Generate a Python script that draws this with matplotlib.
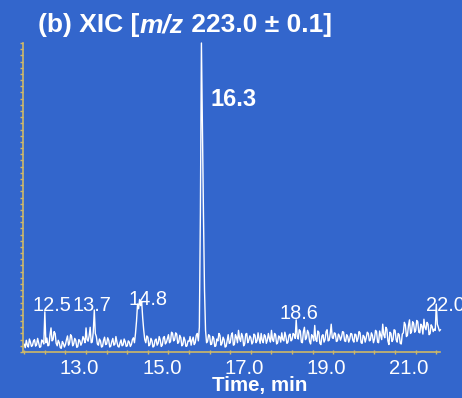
import numpy as np
import matplotlib
matplotlib.use("Agg")
import matplotlib.pyplot as plt
from matplotlib.ticker import MultipleLocator, NullFormatter, FormatStrFormatter
from matplotlib.transforms import ScaledTranslation

plt.rcParams["font.family"] = ["Liberation Sans", "DejaVu Sans"]

# ---- data: extracted ion chromatogram, m/z 223.0 +/- 0.1 ----
scan_start = 12.000   # min
scan_step = 0.025     # min between scans
intensity = [
    2.5, 1.4, 3.8, 2.2, 1.6, 4.2, 3.2, 1.8, 2.1, 3.6, 4.0, 1.9, 2.4, 4.4, 3.0, 1.5, 1.7, 3.9, 3.4, 2.6,
    13.0, 3.0, 4.5, 2.0, 2.2, 5.5, 7.8, 3.6, 4.0, 6.6, 6.0, 2.8, 2.0, 3.8, 3.0, 1.4, 1.2, 3.4, 2.8, 1.6,
    2.4, 4.0, 5.2, 2.2, 3.0, 5.6, 5.0, 2.0, 2.6, 4.4, 3.8, 1.5, 1.8, 4.0, 3.6, 2.2, 3.0, 5.0, 4.2, 3.0,
    7.8, 4.0, 3.5, 5.2, 8.0, 3.0, 3.2, 6.5, 13.6, 6.0, 5.0, 2.6, 2.2, 4.2, 3.6, 1.6, 1.8, 3.8, 4.8, 2.4,
    2.6, 4.6, 3.8, 1.6, 1.9, 3.4, 4.4, 2.2, 2.5, 5.0, 3.2, 1.8, 1.6, 3.0, 3.9, 2.0, 2.3, 4.2, 3.4, 1.8,
    2.0, 3.6, 3.2, 1.8, 2.4, 4.0, 4.6, 3.0, 6.0, 10.0, 15.5, 14.0, 17.0, 15.0, 16.3, 11.0, 7.0, 4.0, 3.0, 5.2,
    4.8, 2.0, 2.4, 4.4, 3.6, 1.6, 1.9, 3.8, 4.2, 2.2, 2.8, 5.0, 3.9, 1.8, 2.2, 4.6, 5.0, 2.6, 3.1, 4.4,
    5.6, 3.0, 3.4, 6.4, 6.0, 3.6, 4.0, 6.2, 5.8, 2.8, 3.2, 5.4, 4.6, 2.0, 2.4, 4.8, 3.8, 1.8, 2.0, 3.6,
    3.4, 5.0, 2.2, 3.8, 4.8, 2.4, 3.0, 5.4, 6.0, 3.6, 8.0, 45.0, 100.0, 72.0, 44.0, 20.0, 7.0, 3.0, 3.5, 5.6,
    5.2, 2.4, 2.6, 5.0, 4.4, 1.8, 2.0, 4.2, 3.6, 6.0, 5.4, 2.2, 2.8, 4.8, 4.0, 1.6, 1.8, 3.8, 5.6, 2.8,
    3.0, 5.4, 6.2, 2.2, 2.4, 5.6, 4.8, 3.0, 7.0, 4.4, 3.4, 6.0, 5.0, 2.0, 2.6, 5.8, 6.0, 3.0, 3.8, 5.2,
    4.6, 2.6, 3.2, 5.8, 5.4, 3.0, 3.6, 6.2, 4.2, 2.8, 6.0, 3.8, 3.0, 5.6, 5.2, 2.8, 3.8, 6.0, 4.4, 3.2,
    7.0, 4.0, 3.4, 6.0, 5.6, 2.6, 3.0, 5.2, 4.8, 3.2, 6.2, 4.0, 3.6, 6.4, 5.0, 2.8, 3.2, 5.4, 5.8, 3.6,
    4.0, 6.0, 5.6, 4.4, 10.4, 5.0, 4.2, 7.2, 6.8, 3.2, 3.0, 6.6, 8.0, 4.0, 4.6, 7.0, 6.2, 3.4, 2.6, 5.6,
    5.0, 3.6, 8.6, 4.0, 3.4, 6.8, 6.4, 2.8, 2.4, 5.2, 5.6, 3.2, 4.0, 6.6, 7.2, 3.6, 3.8, 5.8, 9.0, 4.6,
    4.4, 6.2, 6.0, 3.4, 3.6, 5.8, 5.2, 3.8, 4.8, 6.6, 6.4, 3.6, 3.4, 5.6, 5.0, 3.2, 4.2, 6.0, 5.8, 3.8,
    3.2, 5.8, 5.6, 3.4, 4.4, 6.6, 6.2, 3.0, 2.8, 5.4, 5.0, 3.2, 4.6, 6.4, 6.0, 3.6, 3.8, 6.2, 5.4, 3.0,
    4.2, 7.0, 6.6, 3.2, 3.0, 6.8, 5.4, 4.0, 9.0, 5.6, 4.6, 8.0, 7.4, 3.6, 2.4, 6.4, 6.0, 3.4, 4.0, 7.2,
    7.0, 4.0, 3.2, 6.0, 5.6, 2.8, 2.6, 5.8, 6.2, 9.6, 8.8, 5.0, 5.4, 8.6, 10.4, 6.0, 6.6, 9.8, 9.2, 6.4,
    7.0, 10.2, 9.8, 6.4, 6.2, 9.0, 8.4, 5.8, 10.6, 8.0, 7.2, 9.6, 9.0, 5.6, 6.0, 8.8, 8.2, 6.6, 7.4, 7.0,
    15.5, 9.0, 8.0, 6.8, 7.2,
]
peak_times = [12.5, 13.7, 14.8, 16.3, 18.6, 22.0]
peak_labels = ["12.5", "13.7", "14.8", "16.3", "18.6", "22.0"]
x_tick_values = [13.0, 15.0, 17.0, 19.0, 21.0]
title_parts = ["(b) XIC [", "m/z", " 223.0 \u00b1 0.1]"]

# label placement (pixel offsets from apex) and styling
label_offsets = [(7, 1), (-2, -1), (8, -6), (9, -63), (3, 1), (9, -7)]
label_bold = [False, False, False, True, False, False]
label_align = ["center", "center", "center", "left", "center", "center"]

bg = "#3366cc"
axis_col = "#cdb868"

times = scan_start + scan_step * np.arange(len(intensity))
inten = np.array(intensity)

W, H = 462, 398
fig = plt.figure(figsize=(W / 100, H / 100), dpi=100, facecolor=bg)
ax = fig.add_axes([23 / W, 1 - 352 / H, (440 - 23) / W, (352 - 43) / H])
ax.set_facecolor(bg)

ax.plot(times, inten, color="white", lw=1.0, clip_on=False)

ax.set_xlim(11.97, 22.09)
ax.set_ylim(0, 100)

for s in ["top", "right"]:
    ax.spines[s].set_visible(False)
for s in ["left", "bottom"]:
    ax.spines[s].set_color(axis_col)
    ax.spines[s].set_linewidth(1.2)

ax.xaxis.set_major_locator(plt.FixedLocator(x_tick_values))
ax.xaxis.set_major_formatter(FormatStrFormatter("%.1f"))
ax.xaxis.set_minor_locator(MultipleLocator(0.5))
ax.yaxis.set_major_locator(MultipleLocator(2))
ax.yaxis.set_major_formatter(NullFormatter())

ax.tick_params(axis="x", which="both", direction="inout", length=3, width=1,
               color=axis_col, labelcolor="white", labelsize=14.6, pad=3.5)
ax.tick_params(axis="y", which="both", direction="out", length=2.5, width=1,
               color=axis_col)

shift = ScaledTranslation(14 / 100, 0, fig.dpi_scale_trans)
for lab in ax.get_xticklabels():
    lab.set_transform(lab.get_transform() + shift)

for t, txt, off, bold, ha in zip(peak_times, peak_labels, label_offsets,
                                 label_bold, label_align):
    y = inten[np.argmin(np.abs(times - t))]
    ax.annotate(txt, xy=(t, y), xytext=off, textcoords="offset pixels",
                ha=ha, va="baseline", color="white",
                fontsize=17 if bold else 14.4,
                fontweight="bold" if bold else "normal",
                annotation_clip=False)

# title assembled from pieces so "m/z" can be italic
fig.canvas.draw()
renderer = fig.canvas.get_renderer()
x_px = 38
y_base = 1 - 32.3 / H
for i, part in enumerate(title_parts):
    t = fig.text(x_px / W, y_base, part, color="white", fontsize=19,
                 fontweight="bold", fontstyle="italic" if i == 1 else "normal",
                 ha="left", va="baseline")
    x_px = t.get_window_extent(renderer).x1

fig.text(260 / W, 1 - 391 / H, "Time, min", color="white",
         fontsize=14.8, fontweight="bold", ha="center", va="baseline")

fig.savefig("out.png", dpi=100, facecolor=bg)
